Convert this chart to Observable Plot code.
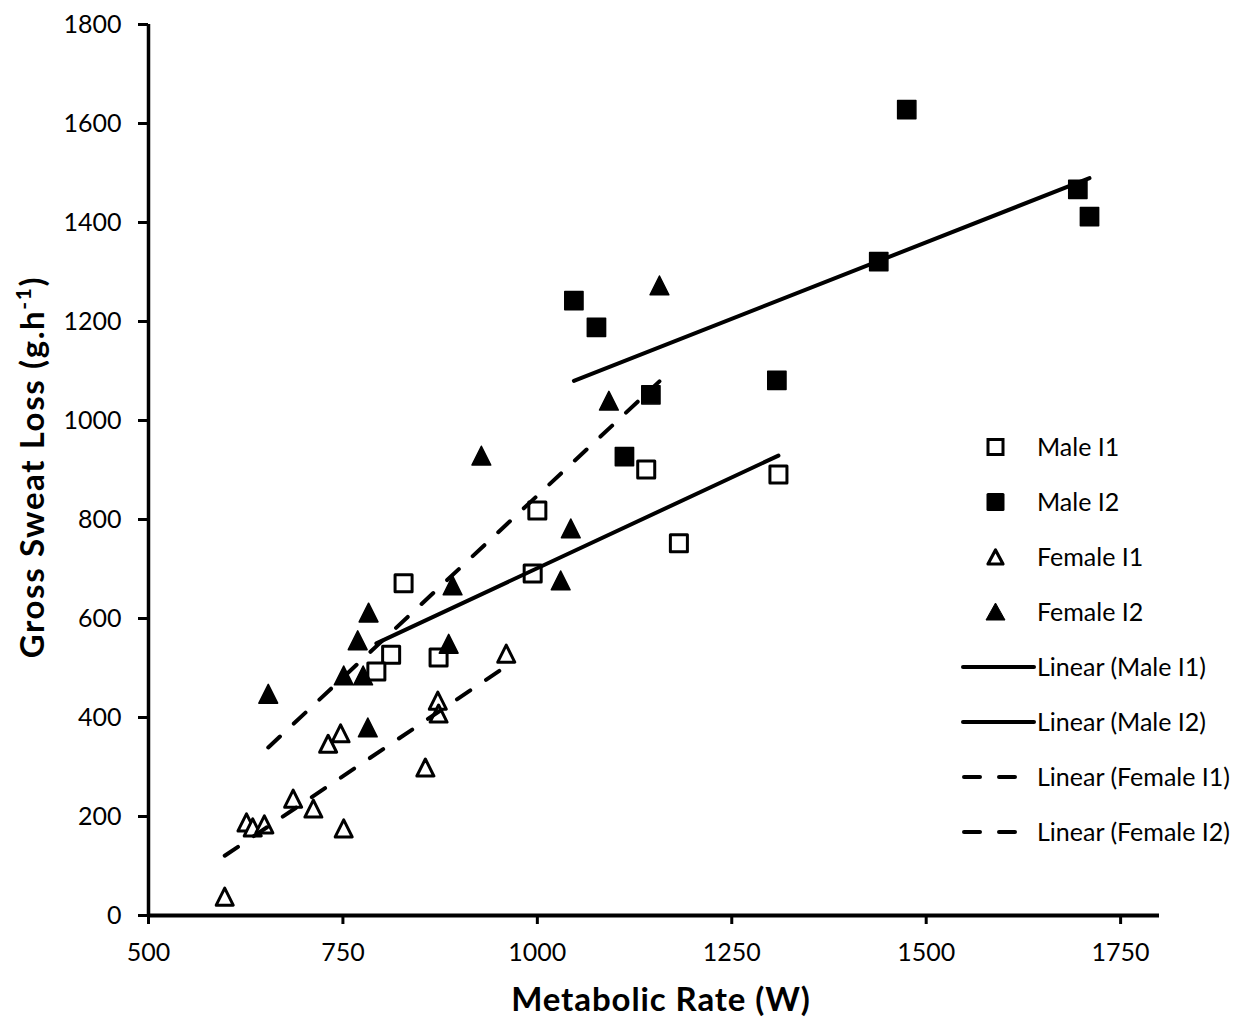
<!DOCTYPE html>
<html>
<head>
<meta charset="utf-8">
<script src="https://cdn.jsdelivr.net/npm/d3@7"></script>
<script src="https://cdn.jsdelivr.net/npm/@observablehq/plot@0.6"></script>
<style>
  body { margin: 0; background: #fff; }
  #chart { width: 1236px; height: 1023px; }
</style>
</head>
<body>
<div id="chart"></div>
<script>
// ---- Data ----
const maleI1X = [828, 812, 793, 873, 994, 1000, 1140, 1182, 1310];
const maleI1Y = [671, 527, 493, 521, 691, 818, 901, 752, 891];

const maleI2X = [1047, 1076, 1112, 1146, 1308, 1439, 1475, 1695, 1710];
const maleI2Y = [1242, 1188, 927, 1052, 1081, 1321, 1628, 1467, 1412];

const femaleI1X = [598, 626, 634, 649, 686, 712, 751, 731, 747, 856, 872, 873, 960];
const femaleI1Y = [38, 188, 178, 184, 236, 216, 176, 347, 368, 299, 434, 408, 529];

const femaleI2X = [654, 769, 783, 751, 776, 782, 886, 891, 1043, 1030, 1092, 928, 1157];
const femaleI2Y = [448, 556, 612, 485, 485, 380, 549, 667, 782, 677, 1040, 929, 1273];

const xTicks = [500, 750, 1000, 1250, 1500, 1750];
const yTicks = [0, 200, 400, 600, 800, 1000, 1200, 1400, 1600, 1800];

const legendLabels = ["Male I1", "Male I2", "Female I1", "Female I2",
  "Linear (Male I1)", "Linear (Male I2)", "Linear (Female I1)", "Linear (Female I2)"];

const toRows = (xs, ys) => xs.map((x, i) => ({x, y: ys[i]}));
const maleI1 = toRows(maleI1X, maleI1Y);
const maleI2 = toRows(maleI2X, maleI2Y);
const femaleI1 = toRows(femaleI1X, femaleI1Y);
const femaleI2 = toRows(femaleI2X, femaleI2Y);

// Excel-like markers (box-shaped square / triangle)
const sq = {draw(ctx, size) { const h = Math.sqrt(size) / 2;
  ctx.moveTo(-h, -h); ctx.lineTo(h, -h); ctx.lineTo(h, h); ctx.lineTo(-h, h); ctx.closePath(); }};
const tri = {draw(ctx, size) { const h = Math.sqrt(size) / 2;
  ctx.moveTo(0, -h); ctx.lineTo(h, h); ctx.lineTo(-h, h); ctx.closePath(); }};

const dash = "16,19";

const chart = Plot.plot({
  width: 1236,
  height: 1023,
  marginLeft: 148,
  marginRight: 77,
  marginTop: 24,
  marginBottom: 108,
  style: {fontFamily: "Lato", background: "#fff", color: "#000"},
  x: {domain: [500, 1800]},
  y: {domain: [0, 1800]},
  marks: [
    Plot.axisY({ticks: yTicks, tickFormat: "d", tickSize: 10, tickPadding: 17, strokeWidth: 3, fontSize: 25, label: null}),
    Plot.axisX({ticks: xTicks, tickFormat: "d", tickSize: 9, tickPadding: 19, strokeWidth: 3, fontSize: 25, label: null}),
    Plot.ruleX([500], {strokeWidth: 3.5}),
    Plot.ruleY([0], {strokeWidth: 4}),
    Plot.dot(maleI1, {x: "x", y: "y", symbol: sq, r: 9.6, fill: "white", stroke: "black", strokeWidth: 3, strokeLinejoin: "round"}),
    Plot.dot(maleI2, {x: "x", y: "y", symbol: sq, r: 10.3, fill: "black", stroke: "black", strokeWidth: 1.5, strokeLinejoin: "round"}),
    Plot.dot(femaleI1, {x: "x", y: "y", symbol: tri, r: 9.6, fill: "white", stroke: "black", strokeWidth: 3, strokeLinejoin: "round"}),
    Plot.dot(femaleI2, {x: "x", y: "y", symbol: tri, r: 10.6, fill: "black", stroke: "black", strokeWidth: 1.5, strokeLinejoin: "round"}),
    Plot.linearRegressionY(maleI1, {x: "x", y: "y", ci: 0, stroke: "black", strokeWidth: 4}),
    Plot.linearRegressionY(maleI2, {x: "x", y: "y", ci: 0, stroke: "black", strokeWidth: 4}),
    Plot.linearRegressionY(femaleI1, {x: "x", y: "y", ci: 0, stroke: "black", strokeWidth: 4, strokeDasharray: dash, strokeLinecap: "round"}),
    Plot.linearRegressionY(femaleI2, {x: "x", y: "y", ci: 0, stroke: "black", strokeWidth: 4, strokeDasharray: dash, strokeLinecap: "round"})
  ]
});

document.getElementById("chart").appendChild(chart);

const svg = d3.select(chart);

// Axis titles
svg.append("text")
  .attr("x", 661).attr("y", 1011)
  .attr("text-anchor", "middle")
  .attr("font-family", "Lato").attr("font-weight", "bold").attr("font-size", 33)
  .attr("letter-spacing", 0.9)
  .attr("fill", "#000")
  .text("Metabolic Rate (W)");

const yt = svg.append("text")
  .attr("transform", "translate(44,467) rotate(-90)")
  .attr("text-anchor", "middle")
  .attr("font-family", "Lato").attr("font-weight", "bold").attr("font-size", 33)
  .attr("letter-spacing", 1.6)
  .attr("fill", "#000");
yt.append("tspan").text("Gross Sweat Loss (g.h");
yt.append("tspan").attr("dy", -13).attr("font-size", 21).text("-1");
yt.append("tspan").attr("dy", 13).text(")");

// Legend
const lg = svg.append("g").attr("font-family", "Lato").attr("font-size", 25)
  .attr("fill", "#000").attr("text-anchor", "start");
const rowY = [447, 502, 557, 612, 667, 722, 777, 832];
legendLabels.forEach((label, i) => {
  const y = rowY[i];
  const g = lg.append("g");
  if (i === 0) g.append("rect").attr("x", 988).attr("y", y - 7.5).attr("width", 15).attr("height", 15)
      .attr("fill", "white").attr("stroke", "black").attr("stroke-width", 3);
  if (i === 1) g.append("rect").attr("x", 986.5).attr("y", y - 9).attr("width", 18).attr("height", 18)
      .attr("fill", "black").attr("rx", 1.5);
  if (i === 2) g.append("path").attr("d", `M${995.5},${y - 7} L${1003},${y + 7} L${988},${y + 7} Z`)
      .attr("fill", "white").attr("stroke", "black").attr("stroke-width", 3.2).attr("stroke-linejoin", "round");
  if (i === 3) g.append("path").attr("d", `M${995.5},${y - 9} L${1005},${y + 8} L${986},${y + 8} Z`)
      .attr("fill", "black").attr("stroke", "black").attr("stroke-width", 1).attr("stroke-linejoin", "round");
  if (i === 4 || i === 5) g.append("line").attr("x1", 963).attr("x2", 1034).attr("y1", y).attr("y2", y)
      .attr("stroke", "black").attr("stroke-width", 4).attr("stroke-linecap", "round");
  if (i === 6 || i === 7) g.append("line").attr("x1", 964).attr("x2", 1034).attr("y1", y).attr("y2", y)
      .attr("stroke", "black").attr("stroke-width", 4).attr("stroke-linecap", "round")
      .attr("stroke-dasharray", "16,19");
  g.append("text").attr("x", 1037).attr("y", y).attr("dy", "0.35em").text(label);
});
</script>
</body>
</html>
